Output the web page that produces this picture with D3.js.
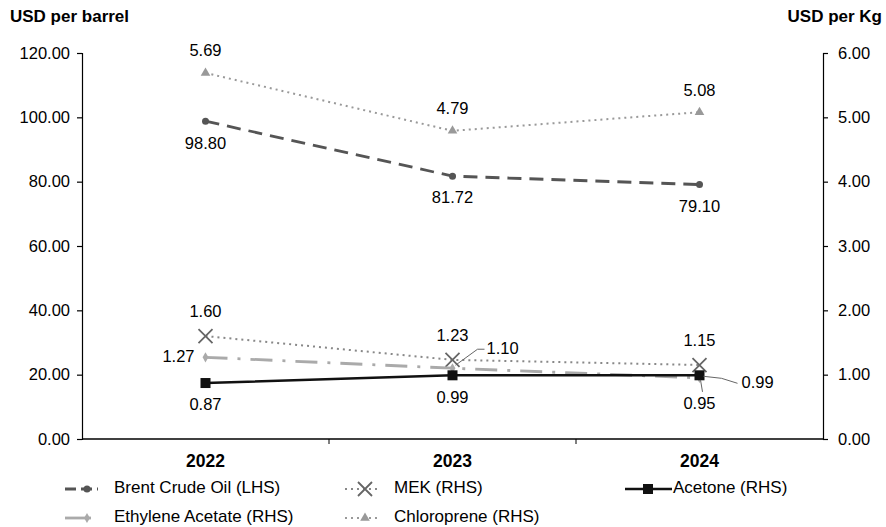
<!DOCTYPE html>
<html><head><meta charset="utf-8">
<script src="https://cdn.jsdelivr.net/npm/d3@7"></script>
<style>body{margin:0;background:#fff}svg{font-family:"Liberation Sans",Arial,sans-serif}</style>
</head><body>
<svg id="c" width="886" height="527"></svg>
<script>
const years = ["2022","2023","2024"];
const brent = [98.80, 81.72, 79.10];
const mek = [1.60, 1.23, 1.15];
const acetone = [0.87, 0.99, 0.99];
const ethylene = [1.27, 1.10, 0.95];
const chloroprene = [5.69, 4.79, 5.08];
const leftTicks = [0,20,40,60,80,100,120];
const rightTicks = [0,1,2,3,4,5,6];

const FS = 16.5;
const svg = d3.select("#c");
const L = 82, R = 823, T = 53, B = 439;
const x = d3.scaleBand().domain(years).range([L, R]);
const yL = d3.scaleLinear().domain([0,120]).range([B, T]);
const yR = d3.scaleLinear().domain([0,6]).range([B, T]);
const cx = d => x(d) + x.bandwidth()/2;

// axes
const gl = svg.append("g").attr("transform",`translate(${L},0)`)
  .call(d3.axisLeft(yL).tickValues(leftTicks).tickFormat(d3.format(".2f")).tickSize(5).tickPadding(7));
const gr = svg.append("g").attr("transform",`translate(${R},0)`)
  .call(d3.axisRight(yR).tickValues(rightTicks).tickFormat(d3.format(".2f")).tickSize(5).tickPadding(10));
[gl,gr].forEach(g=>{g.selectAll("path,line").attr("stroke","#000").attr("stroke-width",1.2);
  g.selectAll("text").attr("font-size",FS).attr("fill","#000").attr("font-family","Liberation Sans, Arial, sans-serif");});
// bottom axis
svg.append("line").attr("x1",L).attr("x2",R).attr("y1",B).attr("y2",B).attr("stroke","#000").attr("stroke-width",1.5);
[x("2023"), x("2024")].forEach(v=>svg.append("line").attr("x1",v).attr("x2",v).attr("y1",B).attr("y2",B+5).attr("stroke","#000"));
years.forEach(yv=>svg.append("text").attr("x",cx(yv)).attr("y",462).attr("text-anchor","middle").attr("dominant-baseline","middle")
  .attr("font-size",17.5).attr("font-weight","bold").text(yv));

svg.append("text").attr("x",10).attr("y",18).attr("dominant-baseline","middle").attr("font-size",17).attr("font-weight","bold").text("USD per barrel");
svg.append("text").attr("x",882).attr("y",18).attr("dominant-baseline","middle").attr("text-anchor","end").attr("font-size",17).attr("font-weight","bold").text("USD per Kg");

const series = [
  {name:"Chloroprene (RHS)", vals:chloroprene, y:yR, color:"#999", w:2, dash:"2,4", marker:"tri", mcol:"#999"},
  {name:"Brent Crude Oil (LHS)", vals:brent, y:yL, color:"#555", w:2.8, dash:"14,8", marker:"circle", mcol:"#555"},
  {name:"MEK (RHS)", vals:mek, y:yR, color:"#888", w:2, dash:"2,4", marker:"x", mcol:"#666"},
  {name:"Ethylene Acetate (RHS)", vals:ethylene, y:yR, color:"#aaa", w:2.8, dash:"22,10,3,10", marker:"diamond", mcol:"#aaa"},
  {name:"Acetone (RHS)", vals:acetone, y:yR, color:"#111", w:2.5, dash:null, marker:"square", mcol:"#111"}
];

function marker(g, type, px, py, col){
  if(type==="circle") g.append("circle").attr("cx",px).attr("cy",py).attr("r",3.5).attr("fill",col);
  else if(type==="tri") g.append("path").attr("d",d3.symbol(d3.symbolTriangle,40)()).attr("transform",`translate(${px},${py})`).attr("fill",col);
  else if(type==="x") g.append("path").attr("d",`M${px-7},${py-7}L${px+7},${py+7}M${px-7},${py+7}L${px+7},${py-7}`).attr("stroke",col).attr("stroke-width",1.8).attr("fill","none");
  else if(type==="diamond") g.append("path").attr("d",d3.symbol(d3.symbolDiamond,30)()).attr("transform",`translate(${px},${py})`).attr("fill",col);
  else if(type==="square") g.append("rect").attr("x",px-5).attr("y",py-5).attr("width",10).attr("height",10).attr("fill",col);
}

series.forEach(s=>{
  const line = d3.line().x((d,i)=>cx(years[i])).y(d=>s.y(d));
  svg.append("path").datum(s.vals).attr("d",line).attr("fill","none").attr("stroke",s.color)
    .attr("stroke-width",s.w).attr("stroke-dasharray",s.dash);
  s.vals.forEach((v,i)=>marker(svg,s.marker,cx(years[i]),s.y(v),s.mcol));
});

function lab(val, px, py, anchor){
  svg.append("text").attr("x",px).attr("y",py).attr("text-anchor",anchor||"middle").attr("dominant-baseline","middle")
    .attr("font-size",FS).attr("fill","#000").text(d3.format(".2f")(val));
}
function leader(pts){
  svg.append("polyline").attr("points",pts.map(p=>p.join(",")).join(" ")).attr("fill","none").attr("stroke","#666").attr("stroke-width",1);
}
const X = i=>cx(years[i]);
chloroprene.forEach((v,i)=>lab(v, X(i), yR(v)-21));
brent.forEach((v,i)=>lab(v, X(i), yL(v)+23));
mek.forEach((v,i)=>lab(v, X(i), yR(v)-23));
lab(ethylene[0], X(0)-11, yR(ethylene[0]), "end");
lab(acetone[0], X(0), yR(acetone[0])+23);
lab(acetone[1], X(1), yR(acetone[1])+23);
// ethylene 2023 with leader
leader([[X(1)+3,yR(ethylene[1])-3],[X(1)+25,yR(ethylene[1])-19],[X(1)+32,yR(ethylene[1])-19]]);
lab(ethylene[1], X(1)+34, yR(ethylene[1])-19, "start");
// acetone 2024 right with leader
leader([[X(2)+4,yR(acetone[2])+1],[X(2)+22,yR(acetone[2])+3],[X(2)+38,yR(acetone[2])+8]]);
lab(acetone[2], X(2)+42, yR(acetone[2])+8, "start");
// ethylene 2024 below with leader
leader([[X(2)+1,yR(ethylene[2])+2],[X(2)+3,yR(ethylene[2])+14]]);
lab(ethylene[2], X(2), yR(ethylene[2])+27);

// legend
const leg = [
  {s:series[1], x:65, y:489, len:33, mx:87},
  {s:series[2], x:345, y:489, len:33, mx:365},
  {s:series[4], x:625, y:489, len:47, mx:648},
  {s:series[3], x:65, y:518, len:33, mx:87},
  {s:series[0], x:345, y:518, len:33, mx:365}
];
leg.forEach(l=>{
  const s=l.s;
  let dash = s.dash;
  if(s.marker==="circle") dash="11,5";
  if(s.marker==="diamond") dash="26,8,2,8";
  svg.append("line").attr("x1",l.x).attr("x2",l.x+l.len).attr("y1",l.y).attr("y2",l.y)
    .attr("stroke",s.color).attr("stroke-width",s.w).attr("stroke-dasharray",dash);
  marker(svg,s.marker,l.mx,l.y,s.mcol);
  svg.append("text").attr("x",l.x+l.len+(s.marker==="square"?1:16)).attr("y",l.y).attr("dominant-baseline","middle")
    .attr("font-size",17).text(s.name);
});
</script>
</body></html>
